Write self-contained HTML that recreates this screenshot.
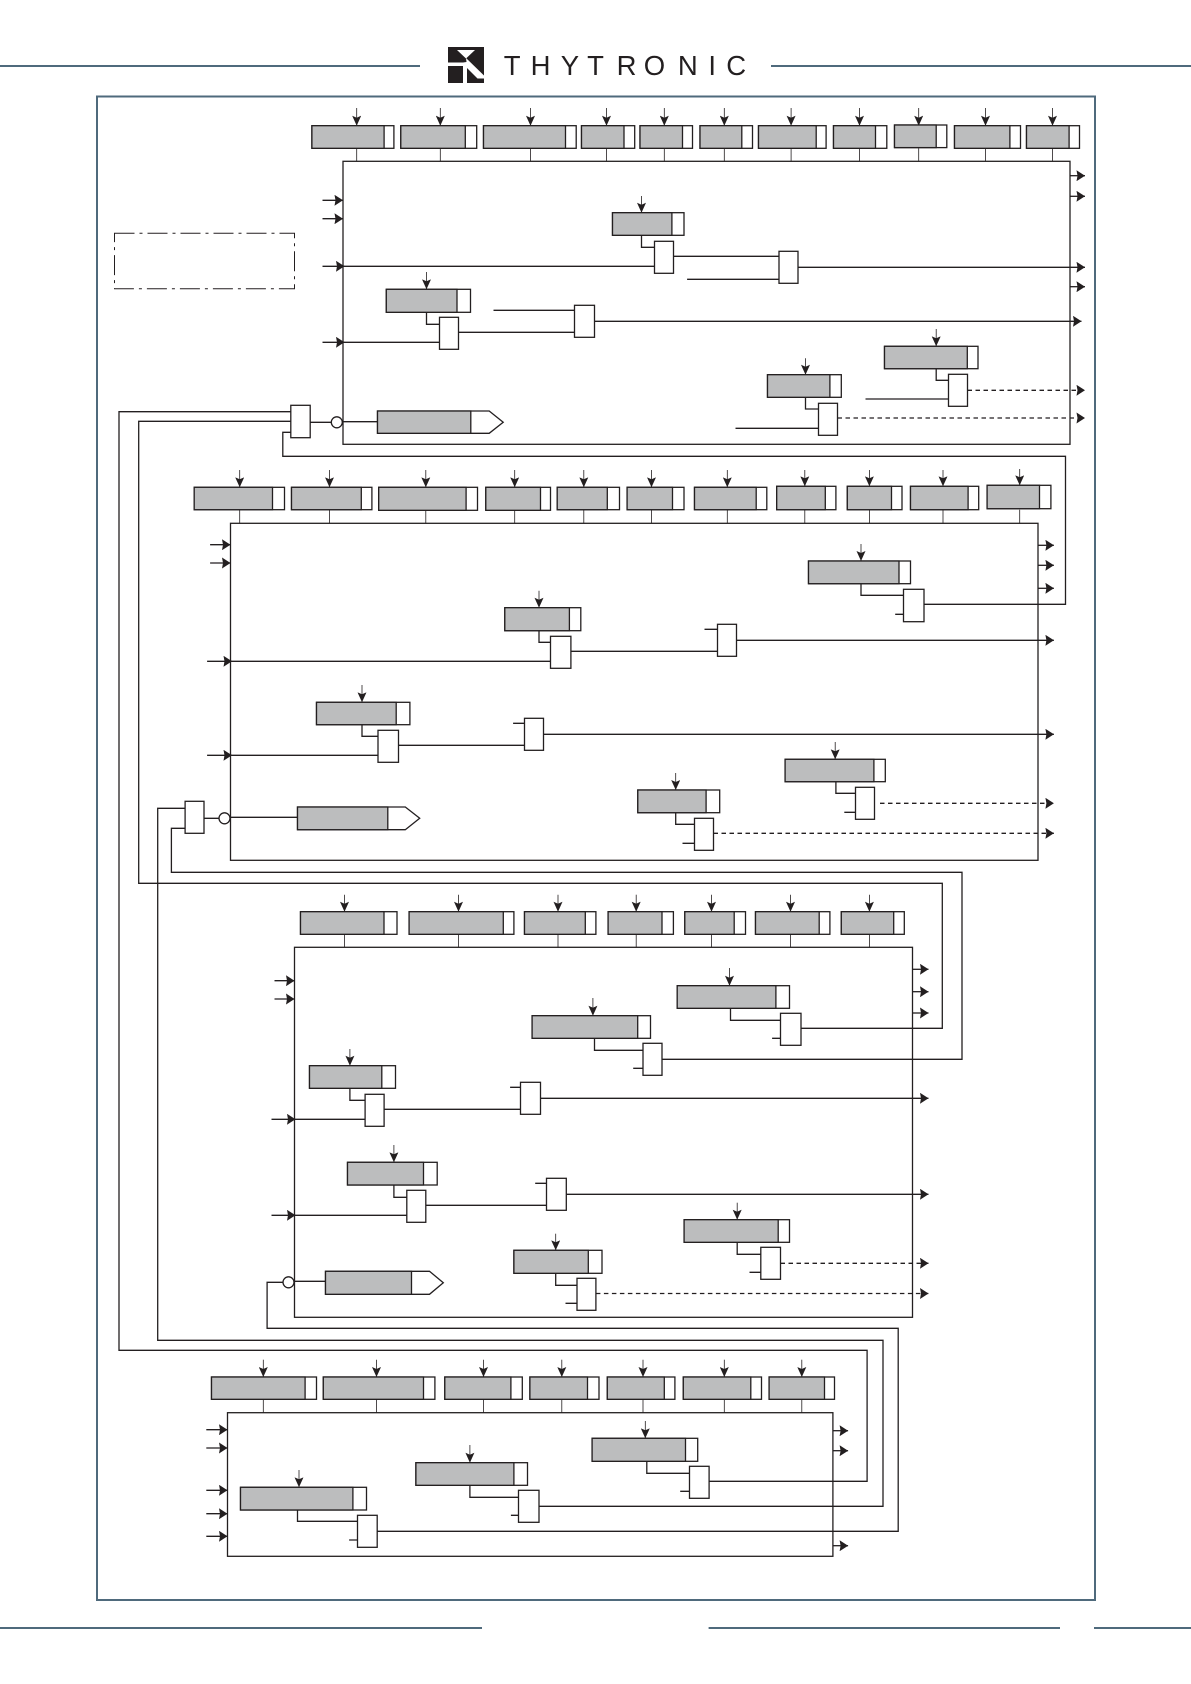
<!DOCTYPE html>
<html><head><meta charset="utf-8"><style>
html,body{margin:0;padding:0;background:#fff}
svg{display:block}
path,line{fill:none;stroke:#231f20;stroke-width:1.3}
.t{stroke-width:.8}
.a{marker-end:url(#a)}
.r{marker-end:url(#r)}
.k{stroke-dasharray:4.5 3.5}
.b{fill:#fff;stroke:#231f20;stroke-width:1.3}
.g{fill:#bcbdbe;stroke:#231f20;stroke-width:1.3}
.f{fill:none;stroke:#4f6a7c;stroke-width:2}
</style></head><body>
<svg width="1191" height="1684" viewBox="0 0 1191 1684" xmlns="http://www.w3.org/2000/svg">
<defs>
<marker id="a" markerUnits="userSpaceOnUse" markerWidth="11" markerHeight="9" refX="10" refY="4.5" orient="auto"><polygon points="0,0 10,4.5 0,9 2,4.5" fill="#231f20"/></marker>
<marker id="r" markerUnits="userSpaceOnUse" markerWidth="9" markerHeight="11" refX="8.5" refY="5.5" orient="auto"><polygon points="0,0 8.5,5.5 0,11 1,5.5" fill="#231f20"/></marker>
</defs>
<rect width="1191" height="1684" fill="#fff"/>
<!-- header / footer -->
<path d="M0 66H420M771 66H1191M0 1628H482M708.6 1628H1060M1094 1628H1191" style="stroke:#4f6a7c;stroke-width:2"/>
<rect x="97" y="96.5" width="998" height="1503.5" class="f"/>
<rect x="448" y="47" width="36" height="36" fill="#231f20"/>
<polygon points="457,50 475,50 466,58.5" fill="#fff"/>
<polygon points="448,62.5 463,62.5 466.5,62 466,58 484,75.5 484,78.5 477.5,78.5 467,68 467,83 463,83 463,66 448,66" fill="#fff"/>
<text x="503.8 530.6 560.7 587.1 616.6 643.7 677.9 708.4 726.3" y="75" font-family="Liberation Sans, sans-serif" font-size="27.5" fill="#231f20">THYTRONIC</text>
<g transform="translate(0.5 0)">
<rect x="114" y="233.3" width="180" height="55.4" fill="none" stroke="#231f20" stroke-width="1" stroke-dasharray="20 5 3 5"/>

<!-- long interconnects -->
<path d="M290.3 411.7H118.5V1350.3H866.6V1481.3H708.6"/>
<path d="M290.3 421.3H138.2V883.3H941.8V1028.3H800.5"/>
<path d="M290.3 432.3H282.3V456.3H1065V604.3H923.5"/>
<path d="M184.6 808.3H157.2V1340.3H882.5V1506.3H538.5"/>
<path d="M184.6 828.3H170.9V872.3H961.5V1059.3H661.5"/>
<path d="M282.5 1282.3H266.6V1328.3H897.7V1531.3H376.7"/>

<!-- BLOCK 1 -->
<rect x="342.5" y="161.3" width="727" height="283" fill="none" stroke="#231f20" stroke-width="1.3"/>
<path class="t" d="M356.2 148.3V161.3M439.8 148.3V161.3M530 148.3V161.3M606 148.3V161.3M663.8 148.3V161.3M723.8 148.3V161.3M790.6 148.3V161.3M859 148.3V161.3M918.2 148.3V161.3M985 148.3V161.3M1052 148.3V161.3"/>
<g class="t"><path class="a t" d="M356.2 108V125.7"/><path class="a t" d="M439.8 108V125.7"/><path class="a t" d="M530 108V125.7"/><path class="a t" d="M606 108V125.7"/><path class="a t" d="M663.8 108V125.7"/><path class="a t" d="M723.8 108V125.7"/><path class="a t" d="M790.6 108V125.7"/><path class="a t" d="M859 108V125.7"/><path class="a t" d="M918.2 108V125.7"/><path class="a t" d="M985 108V125.7"/><path class="a t" d="M1052 108V125.7"/></g>
<rect class="b" x="311.4" y="125.7" width="82" height="22.6"/><rect class="g" x="311.4" y="125.7" width="72.2" height="22.6"/>
<rect class="b" x="400.3" y="125.7" width="75.9" height="22.6"/><rect class="g" x="400.3" y="125.7" width="64.5" height="22.6"/>
<rect class="b" x="483" y="125.7" width="92.7" height="22.6"/><rect class="g" x="483" y="125.7" width="82" height="22.6"/>
<rect class="b" x="581" y="125.7" width="53.2" height="22.6"/><rect class="g" x="581" y="125.7" width="42.5" height="22.6"/>
<rect class="b" x="639.5" y="125.7" width="52.5" height="22.6"/><rect class="g" x="639.5" y="125.7" width="42.5" height="22.6"/>
<rect class="b" x="699.5" y="125.7" width="52.5" height="22.6"/><rect class="g" x="699.5" y="125.7" width="41.8" height="22.6"/>
<rect class="b" x="758" y="125.7" width="67.6" height="22.6"/><rect class="g" x="758" y="125.7" width="57.7" height="22.6"/>
<rect class="b" x="833" y="125.7" width="53.3" height="22.6"/><rect class="g" x="833" y="125.7" width="42" height="22.6"/>
<rect class="b" x="894" y="125" width="52.3" height="22.6"/><rect class="g" x="894" y="125" width="41.7" height="22.6"/>
<rect class="b" x="954" y="125.7" width="66" height="22.6"/><rect class="g" x="954" y="125.7" width="55.4" height="22.6"/>
<rect class="b" x="1026" y="125.7" width="53" height="22.6"/><rect class="g" x="1026" y="125.7" width="42.6" height="22.6"/>
<path class="r" d="M322 200.3H342.5"/><path class="r" d="M322 218.7H342.5"/><path class="r" d="M322 266.3H344"/><path class="r" d="M322 342.3H344"/>
<path class="r" d="M1069.5 175.7H1084.5"/><path class="r" d="M1069.5 196.3H1084.5"/><path class="r" d="M797.5 267.3H1084.5"/><path class="r" d="M1069.5 286.7H1084.5"/><path class="r" d="M594 321.3H1081"/>
<path class="r k" d="M967 390.3H1084.5"/><path class="r k" d="M837 418H1084.5"/>
<path class="a t" d="M641 196V212.7"/><path class="a t" d="M426 272V289.3"/><path class="a t" d="M935.7 329V346.3"/><path class="a t" d="M805 358.3V374.7"/>
<path d="M641 235.3V247.3H654M342.5 266.3H654M673 256.3H778.5M686.6 279.3H778.5M426 312.3V324.3H439M342.5 342.3H439M458 332.3H574M493 310.3H574M935.7 368.7V380.3H948M865 399H948M805 397.3V409H818M735 428.3H818M309.7 422.3H331M342.5 421.7H377"/>
<rect class="b" x="612" y="212.7" width="71.5" height="22.6"/><rect class="g" x="612" y="212.7" width="59.4" height="22.6"/>
<rect class="b" x="385.8" y="289.3" width="84.2" height="23"/><rect class="g" x="385.8" y="289.3" width="70.7" height="23"/>
<rect class="b" x="884" y="346.3" width="93.5" height="22.4"/><rect class="g" x="884" y="346.3" width="82.8" height="22.4"/>
<rect class="b" x="767" y="374.7" width="73.8" height="22.6"/><rect class="g" x="767" y="374.7" width="62.4" height="22.6"/>
<rect class="b" x="654" y="241.3" width="19" height="32"/><rect class="b" x="778.5" y="251.3" width="19" height="32"/><rect class="b" x="439" y="317.3" width="19" height="32"/><rect class="b" x="574" y="305.3" width="20" height="32"/><rect class="b" x="948" y="374.3" width="19" height="32"/><rect class="b" x="818" y="403.3" width="19" height="32"/>
<rect class="b" x="290.3" y="405.3" width="19.4" height="32.4"/>
<circle class="b" cx="336.3" cy="422.3" r="5.5"/>
<polygon class="b" points="377,411 488.7,411 502.7,422.2 488.7,433.3 377,433.3"/><rect class="g" x="377" y="411" width="93.3" height="22.3"/>

<!-- BLOCK 2 -->
<rect x="230" y="523.3" width="807.5" height="337" fill="none" stroke="#231f20" stroke-width="1.3"/>
<path class="t" d="M239.2 509.7V523.3M329 509.7V523.3M425.3 509.7V523.3M514.2 509.7V523.3M583.3 509.7V523.3M651 509.7V523.3M726.8 509.7V523.3M804.3 509.7V523.3M868.9 509.7V523.3M942.5 509.7V523.3M1019.2 509.7V523.3"/>
<path class="a t" d="M239.2 470V487.3"/><path class="a t" d="M329 470V487.3"/><path class="a t" d="M425.3 470V487.3"/><path class="a t" d="M514.2 470V487.3"/><path class="a t" d="M583.3 470V487.3"/><path class="a t" d="M651 470V487.3"/><path class="a t" d="M726.8 470V487.3"/><path class="a t" d="M804.3 470V486.3"/><path class="a t" d="M868.9 470V486.3"/><path class="a t" d="M942.5 470V486.3"/><path class="a t" d="M1019.2 469V485.3"/>
<rect class="b" x="193.7" y="487.3" width="90.3" height="22.4"/><rect class="g" x="193.7" y="487.3" width="78.3" height="22.4"/>
<rect class="b" x="291" y="487.3" width="80.4" height="22.4"/><rect class="g" x="291" y="487.3" width="69.8" height="22.4"/>
<rect class="b" x="378.2" y="487.3" width="98.8" height="23"/><rect class="g" x="378.2" y="487.3" width="87.4" height="23"/>
<rect class="b" x="485.3" y="487.3" width="64.7" height="23"/><rect class="g" x="485.3" y="487.3" width="54.7" height="23"/>
<rect class="b" x="556.7" y="487.3" width="62.3" height="22.4"/><rect class="g" x="556.7" y="487.3" width="50.1" height="22.4"/>
<rect class="b" x="626.6" y="487.3" width="56.9" height="22.4"/><rect class="g" x="626.6" y="487.3" width="45.4" height="22.4"/>
<rect class="b" x="694" y="487.3" width="72.3" height="22.4"/><rect class="g" x="694" y="487.3" width="61.7" height="22.4"/>
<rect class="b" x="776.2" y="486.3" width="59.2" height="23.4"/><rect class="g" x="776.2" y="486.3" width="48.6" height="23.4"/>
<rect class="b" x="846.8" y="486.3" width="54.7" height="23.4"/><rect class="g" x="846.8" y="486.3" width="44.2" height="23.4"/>
<rect class="b" x="910" y="486.3" width="68.2" height="23.4"/><rect class="g" x="910" y="486.3" width="57.6" height="23.4"/>
<rect class="b" x="986.6" y="485.3" width="63.8" height="23.4"/><rect class="g" x="986.6" y="485.3" width="52.4" height="23.4"/>
<path class="r" d="M209.6 544.7H230"/><path class="r" d="M209.6 563H230"/><path class="r" d="M206.6 661.3H231.5"/><path class="r" d="M206.6 755.3H231.5"/>
<path class="r" d="M1037.5 545.3H1053.4"/><path class="r" d="M1037.5 565.3H1053.4"/><path class="r" d="M1037.5 588.3H1053.4"/><path class="r" d="M736 640.3H1053.4"/><path class="r" d="M543 734.3H1053.4"/>
<path class="r k" d="M879.5 803.3H1053.4"/><path class="r k" d="M713 833.3H1053.4"/>
<path class="a t" d="M860.5 544V561"/><path class="a t" d="M538.5 590.7V607.7"/><path class="a t" d="M361.5 685V702.3"/><path class="a t" d="M834.7 742V759.3"/><path class="a t" d="M675.2 773V790"/>
<path d="M860.5 583.7V595.3H903M894.7 614.3H903M538.5 630.7V642.3H550M230 661.3H550M570.4 651.3H717M704 629.3H717M361.5 724.7V736.3H377.5M230 755.3H377.5M398 745.3H524M512.6 723.3H524M835.4 781.7V793.3H855M843.8 812.3H855M675.2 812.7V824.3H694.2M682 843.3H694.2M203.5 818.3H218.5M230 817.3H297"/>
<rect class="b" x="808" y="561" width="102" height="22.7"/><rect class="g" x="808" y="561" width="90.5" height="22.7"/>
<rect class="b" x="504.3" y="607.7" width="76" height="23"/><rect class="g" x="504.3" y="607.7" width="64.6" height="23"/>
<rect class="b" x="316" y="702.3" width="93.4" height="22.4"/><rect class="g" x="316" y="702.3" width="79.7" height="22.4"/>
<rect class="b" x="784.6" y="759.3" width="100.2" height="22.4"/><rect class="g" x="784.6" y="759.3" width="88.8" height="22.4"/>
<rect class="b" x="637.3" y="790" width="81.9" height="22.7"/><rect class="g" x="637.3" y="790" width="68.3" height="22.7"/>
<rect class="b" x="903" y="589.3" width="20.5" height="32.4"/><rect class="b" x="550" y="636.3" width="20.4" height="32"/><rect class="b" x="717" y="624.3" width="19" height="32"/><rect class="b" x="377.5" y="730.3" width="20.5" height="32"/><rect class="b" x="524" y="718.3" width="19" height="32"/><rect class="b" x="855" y="787.3" width="19" height="32"/><rect class="b" x="694" y="818.3" width="19" height="32"/>
<rect class="b" x="184.6" y="801.3" width="18.9" height="32"/>
<circle class="b" cx="224" cy="818.3" r="5.5"/>
<polygon class="b" points="297,807 404.8,807 419.2,818.3 404.8,829.7 297,829.7"/><rect class="g" x="297" y="807" width="90.3" height="22.7"/>

<!-- BLOCK 3 -->
<rect x="294" y="947.3" width="618" height="370" fill="none" stroke="#231f20" stroke-width="1.3"/>
<path class="t" d="M344 934.3V947.3M458 934.3V947.3M557.5 934.3V947.3M635.7 934.3V947.3M711 934.3V947.3M790 934.3V947.3M868.9 934.3V947.3"/>
<path class="a t" d="M344 894.7V911.7"/><path class="a t" d="M458 894.7V911.7"/><path class="a t" d="M557.5 894.7V911.7"/><path class="a t" d="M635.7 894.7V911.7"/><path class="a t" d="M711 894.7V911.7"/><path class="a t" d="M790 894.7V911.7"/><path class="a t" d="M868.9 894.7V911.7"/>
<rect class="b" x="300" y="911.7" width="96.5" height="22.6"/><rect class="g" x="300" y="911.7" width="83.5" height="22.6"/>
<rect class="b" x="408.6" y="911.7" width="104.8" height="22.6"/><rect class="g" x="408.6" y="911.7" width="94.2" height="22.6"/>
<rect class="b" x="524" y="911.7" width="71.4" height="22.6"/><rect class="g" x="524" y="911.7" width="60.8" height="22.6"/>
<rect class="b" x="607.6" y="911.7" width="65.3" height="22.6"/><rect class="g" x="607.6" y="911.7" width="53.9" height="22.6"/>
<rect class="b" x="684.3" y="911.7" width="60.7" height="22.6"/><rect class="g" x="684.3" y="911.7" width="49.4" height="22.6"/>
<rect class="b" x="755" y="911.7" width="74.4" height="22.6"/><rect class="g" x="755" y="911.7" width="63.7" height="22.6"/>
<rect class="b" x="840.8" y="911.7" width="63" height="22.6"/><rect class="g" x="840.8" y="911.7" width="52.4" height="22.6"/>
<path class="r" d="M274 980.7H294"/><path class="r" d="M274 999H294"/><path class="r" d="M271 1119.3H295"/><path class="r" d="M271 1215.3H295"/>
<path class="r" d="M912 969.3H928"/><path class="r" d="M912 991.7H928"/><path class="r" d="M912 1013H928"/><path class="r" d="M540 1098.3H928"/><path class="r" d="M565.8 1194.3H928"/>
<path class="r k" d="M780 1263.3H928"/><path class="r k" d="M595.4 1293.5H928"/>
<path class="a t" d="M729 968V985.7"/><path class="a t" d="M592.4 998V1015.7"/><path class="a t" d="M349.4 1049V1065.7"/><path class="a t" d="M393.4 1145V1162.3"/><path class="a t" d="M736.7 1202.7V1219.7"/><path class="a t" d="M555.2 1233.7V1250.3"/>
<path d="M730 1008.3V1020.3H780M771.6 1038.3H780M594 1038.3V1050.3H642.5M632.7 1068.3H642.5M349.4 1088.3V1100.3H364.6M294 1119.3H364.6M383.6 1109.3H520M509.6 1087.3H520M393.4 1185V1197.3H406.3M294 1215.3H406.3M425.3 1205.3H546M534.7 1183.3H546M736.7 1242.3V1254.3H760.3M749 1272.3H760.3M555.2 1273.3V1285.3H576.5M565 1303.3H576.5M294 1281.3H325"/>
<rect class="b" x="676.7" y="985.7" width="112.3" height="22.6"/><rect class="g" x="676.7" y="985.7" width="98.7" height="22.6"/>
<rect class="b" x="531.6" y="1015.7" width="118.4" height="22.6"/><rect class="g" x="531.6" y="1015.7" width="105.6" height="22.6"/>
<rect class="b" x="309" y="1065.7" width="86" height="22.6"/><rect class="g" x="309" y="1065.7" width="72.3" height="22.6"/>
<rect class="b" x="347" y="1162.3" width="89.7" height="22.7"/><rect class="g" x="347" y="1162.3" width="76" height="22.7"/>
<rect class="b" x="683.6" y="1219.7" width="105.4" height="22.6"/><rect class="g" x="683.6" y="1219.7" width="94.1" height="22.6"/>
<rect class="b" x="513.4" y="1250.3" width="88.1" height="23"/><rect class="g" x="513.4" y="1250.3" width="74.4" height="23"/>
<rect class="b" x="780" y="1013.3" width="20.5" height="32"/><rect class="b" x="642.5" y="1043.3" width="19" height="32"/><rect class="b" x="364.6" y="1094.3" width="19" height="32"/><rect class="b" x="520" y="1082.3" width="20" height="32"/><rect class="b" x="406.3" y="1190.3" width="19" height="32"/><rect class="b" x="546" y="1178.3" width="19.8" height="32"/><rect class="b" x="760.3" y="1247.3" width="19.7" height="32"/><rect class="b" x="576.5" y="1278.3" width="18.9" height="32"/>
<circle class="b" cx="288" cy="1282.3" r="5.5"/>
<polygon class="b" points="325,1271.3 429,1271.3 442.8,1282.8 429,1294.3 325,1294.3"/><rect class="g" x="325" y="1271.3" width="86" height="23"/>

<!-- BLOCK 4 -->
<rect x="227" y="1412.7" width="605.4" height="143.6" fill="none" stroke="#231f20" stroke-width="1.3"/>
<path class="t" d="M262.8 1399.3V1412.7M376 1399.3V1412.7M483 1399.3V1412.7M561.3 1399.3V1412.7M642.5 1399.3V1412.7M723.8 1399.3V1412.7M801.3 1399.3V1412.7"/>
<path class="a t" d="M262.8 1359.7V1377"/><path class="a t" d="M376 1359.7V1377"/><path class="a t" d="M483 1359.7V1377"/><path class="a t" d="M561.3 1359.7V1377"/><path class="a t" d="M642.5 1359.7V1377"/><path class="a t" d="M723.8 1359.7V1377"/><path class="a t" d="M801.3 1359.7V1377"/>
<rect class="b" x="211" y="1377" width="105" height="22.3"/><rect class="g" x="211" y="1377" width="93.6" height="22.3"/>
<rect class="b" x="322.8" y="1377" width="111.6" height="22.3"/><rect class="g" x="322.8" y="1377" width="100.2" height="22.3"/>
<rect class="b" x="444.3" y="1377" width="77.5" height="22.3"/><rect class="g" x="444.3" y="1377" width="66.1" height="22.3"/>
<rect class="b" x="529.4" y="1377" width="69.1" height="22.3"/><rect class="g" x="529.4" y="1377" width="57.6" height="22.3"/>
<rect class="b" x="606.8" y="1377" width="67.6" height="22.3"/><rect class="g" x="606.8" y="1377" width="57" height="22.3"/>
<rect class="b" x="682.8" y="1377" width="78.2" height="22.3"/><rect class="g" x="682.8" y="1377" width="67.5" height="22.3"/>
<rect class="b" x="768.6" y="1377" width="65.4" height="22.3"/><rect class="g" x="768.6" y="1377" width="55.4" height="22.3"/>
<path class="r" d="M205.8 1429.7H227"/><path class="r" d="M205.8 1448H227"/><path class="r" d="M205.8 1490.3H227"/><path class="r" d="M205.8 1513.7H227"/><path class="r" d="M205.8 1536.3H227"/>
<path class="r" d="M832.4 1430.7H847.6"/><path class="r" d="M832.4 1450.7H847.6"/><path class="r" d="M832.4 1545.7H847.6"/>
<path class="a t" d="M644.8 1421V1438.3"/><path class="a t" d="M469.4 1445V1462.7"/><path class="a t" d="M298.5 1470V1487.3"/>
<path d="M646.3 1461.3V1473.3H689M679.7 1491.3H689M469.4 1485.3V1497.3H518M510.4 1515.3H518M297 1510V1521.3H357M348.6 1540H357"/>
<rect class="b" x="591.6" y="1438.3" width="105.6" height="23"/><rect class="g" x="591.6" y="1438.3" width="93.4" height="23"/>
<rect class="b" x="415.4" y="1462.7" width="111.6" height="22.6"/><rect class="g" x="415.4" y="1462.7" width="98" height="22.6"/>
<rect class="b" x="240" y="1487.3" width="126" height="22.7"/><rect class="g" x="240" y="1487.3" width="112.4" height="22.7"/>
<rect class="b" x="689" y="1466.3" width="19.6" height="32"/><rect class="b" x="518" y="1490.3" width="20.5" height="32"/><rect class="b" x="357" y="1515.3" width="19.7" height="32"/>
</g>
</svg>
</body></html>
